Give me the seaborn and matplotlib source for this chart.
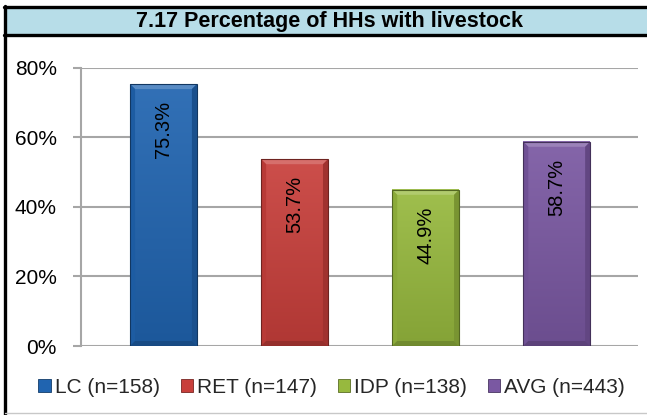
import numpy as np
import matplotlib
matplotlib.use("Agg")
import matplotlib.pyplot as plt
import matplotlib.colors as mcolors
from matplotlib.patches import Patch, Polygon, Rectangle
from matplotlib.lines import Line2D
import pandas as pd
import seaborn as sns

# Data
groups = ["LC", "RET", "IDP", "AVG"]
sample_sizes = [158, 147, 138, 443]
pct_with_livestock = [75.3, 53.7, 44.9, 58.7]
bar_colors = ["#2064b0", "#c83f3b", "#97b93e", "#7a58a2"]
y_ticks = [0, 20, 40, 60, 80]
title = "7.17 Percentage of HHs with livestock"

legend_labels = [f"{g} (n={n})" for g, n in zip(groups, sample_sizes)]
df = pd.DataFrame({"group": groups, "pct": pct_with_livestock})

sns.set_theme(style="white")
plt.rcParams["font.family"] = ["Liberation Sans", "DejaVu Sans"]

W, H = 647, 415
fig = plt.figure(figsize=(W / 100, H / 100), dpi=100)
ax = fig.add_axes([80.5 / W, 1 - 346 / H, (638 - 80.5) / W, (346 - 67.7) / H])

palette = dict(zip(groups, bar_colors))
sns.barplot(data=df, x="group", y="pct", hue="group", palette=palette,
            width=0.51, legend=False, ax=ax, saturation=1,
            edgecolor="none", linewidth=0, zorder=3)

ax.set_xlim(-0.633, 3.62)
ax.set_ylim(0, 80)
ax.set_yticks(y_ticks)
ax.set_yticklabels([f"{t}%" for t in y_ticks], fontsize=15, color="black")
ax.set_xticks([])
ax.set_xlabel("")
ax.set_ylabel("")
ax.tick_params(axis="y", left=True, length=6, width=1.5, color="#a6a6a6",
               pad=11)
for s in ["top", "right", "bottom"]:
    ax.spines[s].set_visible(False)
ax.spines["left"].set_color("#a6a6a6")
ax.spines["left"].set_linewidth(1.5)
ax.yaxis.grid(True, color="#a6a6a6", linewidth=1.5, zorder=0)
ax.set_axisbelow(True)


def shade(c, f):
    r, g, b = mcolors.to_rgb(c)
    if f >= 0:
        return (r + (1 - r) * f, g + (1 - g) * f, b + (1 - b) * f)
    return (r * (1 + f), g * (1 + f), b * (1 + f))


# Bevelled bar faces
px_x = 131.0  # pixels per category unit
px_y = (346 - 67.7) / 80.0
for patch, col, val in zip(ax.patches, bar_colors, pct_with_livestock):
    x0, y0 = patch.get_x(), patch.get_y()
    w, h = patch.get_width(), patch.get_height()
    grad = np.linspace(0, 1, 64)[:, None]
    top_c = np.array(shade(col, 0.08))
    bot_c = np.array(shade(col, -0.12))
    img = top_c[None, None, :] * (1 - grad[..., None]) + bot_c[None, None, :] * grad[..., None]
    ax.imshow(img, extent=(x0, x0 + w, y0, y0 + h), aspect="auto",
              zorder=3.1, interpolation="bilinear")
    dx = 5 / px_x
    dy = 5 / px_y
    top = y0 + h
    ax.add_patch(Polygon([(x0, top), (x0 + w, top), (x0 + w - dx, top - dy),
                          (x0 + dx, top - dy)], closed=True,
                         facecolor=shade(col, 0.25), edgecolor="none", zorder=3.2))
    ax.add_patch(Polygon([(x0, top), (x0 + dx, top - dy), (x0 + dx, y0 + dy),
                          (x0, y0)], closed=True,
                         facecolor=shade(col, -0.08), edgecolor="none", zorder=3.2))
    ax.add_patch(Polygon([(x0 + w, top), (x0 + w - dx, top - dy),
                          (x0 + w - dx, y0 + dy), (x0 + w, y0)], closed=True,
                         facecolor=shade(col, -0.2), edgecolor="none", zorder=3.2))
    ax.add_patch(Polygon([(x0, y0), (x0 + dx, y0 + dy), (x0 + w - dx, y0 + dy),
                          (x0 + w, y0)], closed=True,
                         facecolor=shade(col, -0.25), edgecolor="none", zorder=3.2))
    ax.add_patch(Rectangle((x0, y0), w, h, facecolor="none",
                           edgecolor=shade(col, -0.45), linewidth=0.8, zorder=3.3))
    ax.annotate(f"{val:.1f}%", xy=(x0 + w / 2, top), xytext=(0, -12),
                textcoords="offset points", rotation=90, ha="center", va="top",
                fontsize=14.5, color="black", zorder=4)

# Title band and frame
fig.patches.append(Rectangle((5 / W, 1 - 35.5 / H), 1, 28 / H, transform=fig.transFigure,
                             facecolor="#b7dde8", edgecolor="none", zorder=0))
fig.add_artist(Line2D([4 / W, 1], [1 - 7.5 / H] * 2, color="black", linewidth=2.4))
fig.add_artist(Line2D([4 / W, 1], [1 - 35.5 / H] * 2, color="black", linewidth=2.4))
fig.add_artist(Line2D([5 / W] * 2, [1 - 6.5 / H, 0], color="black", linewidth=2.4))
fig.add_artist(Line2D([5 / W, 1], [1 - 413 / H] * 2, color="#c8c8c8", linewidth=1))
fig.text(329 / W, 1 - 21.5 / H, title, ha="center", va="center",
         fontsize=15.5, fontweight="bold", color="black")

# Legend
handles = [Patch(facecolor=c, edgecolor=shade(c, -0.4), linewidth=0.6)
           for c in bar_colors]
fig.legend(handles, legend_labels, loc="center", ncol=4,
           bbox_to_anchor=(331.5 / W, 1 - 387 / H), frameon=False,
           fontsize=15, handlelength=0.58, handleheight=0.58,
           handletextpad=0.2, columnspacing=1.0, borderaxespad=0, borderpad=0)

fig.savefig("out.png", dpi=100)
